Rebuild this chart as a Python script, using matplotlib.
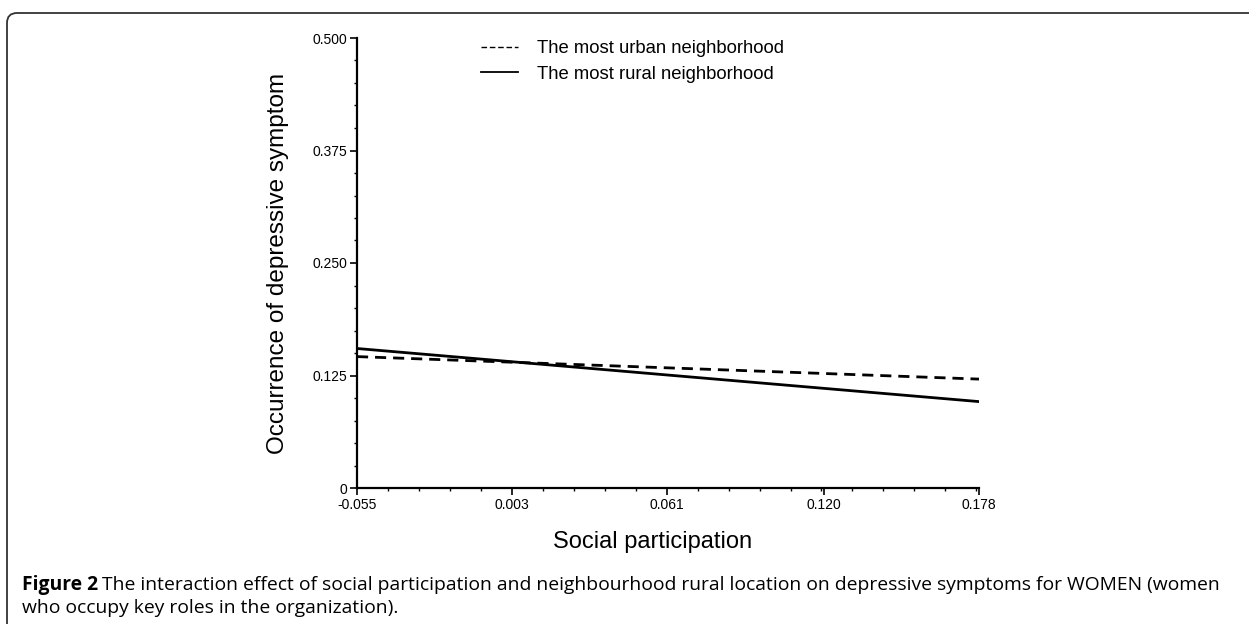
import matplotlib
matplotlib.use("Agg")
import matplotlib.pyplot as plt
from matplotlib.lines import Line2D
from matplotlib.path import Path
from matplotlib.patches import PathPatch
from matplotlib.ticker import FixedLocator, AutoMinorLocator

# data
x_ends = [-0.055, 0.178]
urban = [0.146, 0.121]
rural = [0.155, 0.096]
x_ticks = [-0.055, 0.003, 0.061, 0.120, 0.178]
x_labels = ['-0.055', '0.003', '0.061', '0.120', '0.178']
y_ticks = [0, 0.125, 0.250, 0.375, 0.500]
y_labels = ['0', '0.125', '0.250', '0.375', '0.500']

W, H = 1249, 624
fig = plt.figure(figsize=(W / 100, H / 100), dpi=100)
plt.rcParams['font.family'] = ['Liberation Sans', 'DejaVu Sans']

ax = fig.add_axes([357 / W, 1 - 488 / H, 622 / W, 450 / H])
ax.plot(x_ends, urban, color='black', lw=2.0, dashes=(4, 2.5))
ax.plot(x_ends, rural, color='black', lw=2.0)

ax.set_xlim(-0.055, 0.178)
ax.set_ylim(0, 0.5)
for s in ['top', 'right']:
    ax.spines[s].set_visible(False)
for s in ['left', 'bottom']:
    ax.spines[s].set_linewidth(1.6)
ax.xaxis.set_major_locator(FixedLocator(x_ticks))
ax.yaxis.set_major_locator(FixedLocator(y_ticks))
ax.set_xticklabels(x_labels)
ax.set_yticklabels(y_labels)
ax.xaxis.set_minor_locator(AutoMinorLocator(5))
ax.yaxis.set_minor_locator(AutoMinorLocator(5))
ax.tick_params(which='major', length=5, width=1.2, labelsize=10, pad=2)
ax.tick_params(which='minor', length=2.5, width=1.0)
ax.set_ylabel('Occurrence of depressive symptom', fontsize=17.5)
ax.set_xlabel('Social participation', fontsize=17)
ax.yaxis.set_label_coords((278 - 357) / 622, 0.5)
ax.xaxis.set_label_coords((653 - 357) / 622, -(542 - 488) / 450)
ax.xaxis.label.set_va('center')
ax.yaxis.label.set_va('center')

# legend at the top
handles = [Line2D([], [], color='black', lw=1.0, dashes=(4, 2)),
           Line2D([], [], color='black', lw=1.3)]
fig.legend(handles, ['The most urban neighborhood', 'The most rural neighborhood'],
           loc='upper left', bbox_to_anchor=(472 / W, 1 - 31 / H),
           frameon=False, fontsize=13.3, handlelength=2.0, handletextpad=1.0,
           labelspacing=0.45, borderpad=0)

# frame around the figure (top and left, rounded corner)
def fx(px):
    return px / W

def fy(py):
    return 1 - py / H

verts = [(fx(7), fy(624)), (fx(7), fy(23)), (fx(7), fy(13)), (fx(17), fy(13)), (fx(1249), fy(13))]
codes = [Path.MOVETO, Path.LINETO, Path.CURVE3, Path.CURVE3, Path.LINETO]
fig.add_artist(PathPatch(Path(verts, codes), transform=fig.transFigure,
                         fill=False, edgecolor='#333333', lw=1.3))

# caption
cap_font = ['Open Sans', 'DejaVu Sans']
cap_size = 13.9
t1 = fig.text(fx(22), fy(585), 'Figure 2', fontsize=cap_size, fontweight='bold',
              family=cap_font, va='center', ha='left')
fig.canvas.draw()
r = fig.canvas.get_renderer()
bb = t1.get_window_extent(r)
fig.text(bb.x1 / W + 4 / W, fy(585),
         'The interaction effect of social participation and neighbourhood rural location on depressive symptoms for WOMEN (women',
         fontsize=cap_size, family=cap_font, va='center', ha='left')
fig.text(fx(22), fy(608), 'who occupy key roles in the organization).',
         fontsize=cap_size, family=cap_font, va='center', ha='left')

fig.savefig('out.png', dpi=100)
